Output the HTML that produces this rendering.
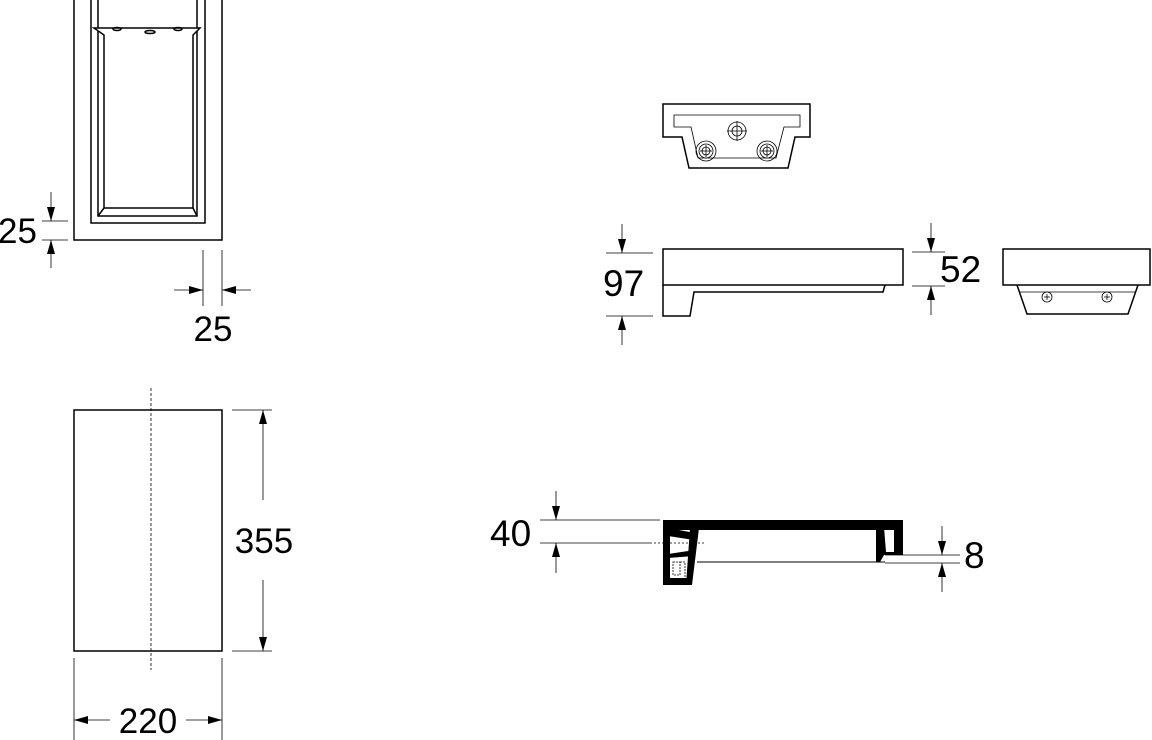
<!DOCTYPE html>
<html><head><meta charset="utf-8"><style>
html,body{margin:0;padding:0;background:#fff;}
svg{display:block;}
text{font-family:"Liberation Sans",sans-serif;fill:#000;}
</style></head><body>
<svg width="1152" height="740" viewBox="0 0 1152 740" xmlns="http://www.w3.org/2000/svg">
<defs>
<marker id="a" viewBox="0 0 14 10" refX="14" refY="5" markerWidth="14" markerHeight="10" markerUnits="userSpaceOnUse" orient="auto"><path d="M0,1 L14,5 L0,9 Z" fill="#000"/></marker>
</defs>
<g fill="none" stroke="#000" stroke-width="1.5">
<rect x="74" y="-2" width="148" height="242"/>
<rect x="91" y="-2" width="114" height="225"/>
<line x1="98" y1="0" x2="98" y2="28"/><line x1="197" y1="0" x2="197" y2="28"/>
<path d="M94,28 L200,28 L193,35 L193,208 L104,208 L104,35 Z"/>
<path d="M98,31 L98,216 L197,216 L197,31"/>
<line x1="98" y1="216" x2="104" y2="208"/><line x1="197" y1="216" x2="193" y2="208"/>
<ellipse cx="117" cy="29" rx="4" ry="1.5"/><ellipse cx="150" cy="32" rx="5" ry="1.5"/><ellipse cx="178" cy="29" rx="4" ry="1.5"/>
</g>
<g stroke="#000" stroke-width="0.8" fill="none">
<line x1="42" y1="221" x2="68" y2="221"/><line x1="42" y1="240" x2="68" y2="240"/>
<line x1="51" y1="192" x2="51" y2="221" marker-end="url(#a)"/>
<line x1="51" y1="268" x2="51" y2="240" marker-end="url(#a)"/>
<line x1="203" y1="250" x2="203" y2="306"/><line x1="222" y1="250" x2="222" y2="306"/>
<line x1="174" y1="290" x2="203" y2="290" marker-end="url(#a)"/>
<line x1="251" y1="290" x2="222" y2="290" marker-end="url(#a)"/>
</g>
<text x="-2" y="243" font-size="35">25</text>
<text x="213" y="341" font-size="35" text-anchor="middle">25</text>

<rect x="74" y="410" width="148" height="241" fill="none" stroke="#000" stroke-width="1.5"/>
<line x1="151" y1="388" x2="151" y2="670" stroke="#000" stroke-width="0.8" stroke-dasharray="3,2"/>
<g stroke="#000" stroke-width="0.8" fill="none">
<line x1="232" y1="410" x2="272" y2="410"/><line x1="232" y1="651" x2="272" y2="651"/>
<line x1="263" y1="500" x2="263" y2="410" marker-end="url(#a)"/>
<line x1="263" y1="580" x2="263" y2="651" marker-end="url(#a)"/>
<line x1="74" y1="658" x2="74" y2="740"/><line x1="222" y1="658" x2="222" y2="740"/>
<line x1="110" y1="720" x2="74" y2="720" marker-end="url(#a)"/>
<line x1="186" y1="720" x2="222" y2="720" marker-end="url(#a)"/>
</g>
<text x="264" y="553" font-size="35" text-anchor="middle">355</text>
<text x="148" y="733" font-size="35" text-anchor="middle">220</text>

<g fill="none" stroke="#000" stroke-width="1.5">
<path d="M663,104 L810,104 L810,137 L795,137 L788,168 L689,168 L682,137 L663,137 Z"/>
</g>
<g fill="none" stroke="#000" stroke-width="0.8">
<path d="M674,115 L800,115 L800,127 L784,127 L776,158 L698,158 L691,127 L674,127 Z"/>
<circle cx="737" cy="131" r="9"/><circle cx="737" cy="131" r="5"/>
<line x1="727" y1="131" x2="747" y2="131"/><line x1="737" y1="121" x2="737" y2="141"/>
<circle cx="706" cy="151" r="10"/><circle cx="706" cy="151" r="7"/><circle cx="706" cy="151" r="4"/>
<line x1="700" y1="151" x2="712" y2="151"/><line x1="706" y1="145" x2="706" y2="157"/>
<circle cx="767" cy="151" r="10"/><circle cx="767" cy="151" r="7"/><circle cx="767" cy="151" r="4"/>
<line x1="761" y1="151" x2="773" y2="151"/><line x1="767" y1="145" x2="767" y2="157"/>
</g>

<g fill="none" stroke="#000" stroke-width="1.5">
<rect x="663" y="249" width="240" height="36"/>
<path d="M663,285 L663,316 L690,316 L694,292 L883,292 L885,285"/>
<rect x="1003" y="249" width="147" height="36"/>
<path d="M1017,285 L1027,314 L1128,314 L1138,285"/>
</g>
<g fill="none" stroke="#000" stroke-width="0.8">
<line x1="1020" y1="292" x2="1135" y2="292"/>
<circle cx="1047" cy="297" r="5"/><line x1="1044" y1="297" x2="1050" y2="297"/><line x1="1047" y1="294" x2="1047" y2="300"/>
<circle cx="1107" cy="297" r="5"/><line x1="1104" y1="297" x2="1110" y2="297"/><line x1="1107" y1="294" x2="1107" y2="300"/>
<line x1="606" y1="253" x2="653" y2="253"/><line x1="606" y1="316" x2="653" y2="316"/>
<line x1="622" y1="224" x2="622" y2="253" marker-end="url(#a)"/>
<line x1="622" y1="345" x2="622" y2="316" marker-end="url(#a)"/>
<line x1="912" y1="252" x2="945" y2="252"/><line x1="912" y1="286" x2="945" y2="286"/>
<line x1="931" y1="223" x2="931" y2="252" marker-end="url(#a)"/>
<line x1="931" y1="315" x2="931" y2="286" marker-end="url(#a)"/>
</g>
<text x="603" y="296" font-size="37">97</text>
<text x="940" y="282" font-size="37">52</text>

<g fill="#000" stroke="none">
<rect x="663" y="520" width="240" height="10"/>
<rect x="894" y="520" width="9" height="35"/>
<path d="M876,527 L884,527 L886,552 L903,552 L903,555 L884,555 L880,562 L876,562 Z"/>
<path d="M663,520 L670,520 L670,585 L663,585 Z"/>
<path d="M663,578 L690,578 L690,585 L663,585 Z"/>
<path d="M690,528 L699,528 L692,585 L686,585 Z"/>
<path d="M668,528 L695,533 L694,540 L668,536 Z"/>
<path d="M668,554 L695,550 L694,556 L668,558 Z"/>
</g>
<line x1="697" y1="562" x2="885" y2="562" stroke="#000" stroke-width="1"/>
<g fill="none" stroke="#000" stroke-width="0.8">
<line x1="540" y1="520" x2="660" y2="520"/><line x1="540" y1="543" x2="650" y2="543"/>
<line x1="556" y1="491" x2="556" y2="520" marker-end="url(#a)"/>
<line x1="556" y1="573" x2="556" y2="543" marker-end="url(#a)"/>
<line x1="650" y1="543" x2="706" y2="543" stroke-dasharray="2,2"/>
<line x1="885" y1="555" x2="960" y2="555"/><line x1="885" y1="563" x2="960" y2="563"/>
<line x1="942" y1="526" x2="942" y2="555" marker-end="url(#a)"/>
<line x1="942" y1="592" x2="942" y2="563" marker-end="url(#a)"/>
<path d="M673,562 L680,562 L680,575 L673,575 Z" stroke-dasharray="2,1"/>
<path d="M680,562 L685,562 L685,578" stroke-dasharray="2,1"/>
</g>
<text x="490" y="546" font-size="37">40</text>
<text x="964" y="568" font-size="37">8</text>
</svg>
</body></html>
